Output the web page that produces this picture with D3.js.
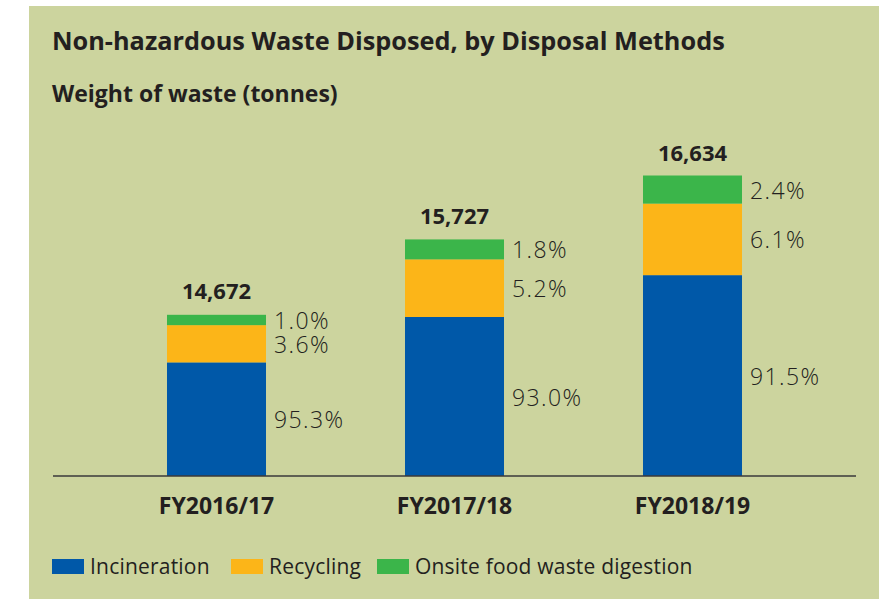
<!DOCTYPE html>
<html>
<head>
<meta charset="utf-8">
<script src="https://cdn.jsdelivr.net/npm/d3@7"></script>
<style>
  html, body { margin: 0; padding: 0; background: #ffffff; }
  svg { display: block; }
  text { font-family: "Open Sans", "Noto Sans", sans-serif; fill: #231f20; }
</style>
</head>
<body>
<svg id="chart" width="890" height="599"></svg>
<script>
// Non-hazardous waste disposed, by disposal method (tonnes and share of total)
const categories = ["FY2016/17", "FY2017/18", "FY2018/19"];
const totals = [14672, 15727, 16634];
const incinerationPct = [95.3, 93.0, 91.5];
const recyclingPct = [3.6, 5.2, 6.1];
const digestionPct = [1.0, 1.8, 2.4];

const seriesNames = ["Incineration", "Recycling", "Onsite food waste digestion"];
const seriesColors = ["#0058a8", "#fcb518", "#3bb54a"];

const W = 890, H = 599;
const svg = d3.select("#chart");

// panel background
svg.append("rect")
  .attr("x", 29).attr("y", 6)
  .attr("width", 850).attr("height", H - 6)
  .attr("fill", "#ccd49e");

// titles
svg.append("text")
  .attr("x", 52).attr("y", 50)
  .attr("font-size", 25.3).attr("font-weight", 700)
  .text("Non-hazardous Waste Disposed, by Disposal Methods");

svg.append("text")
  .attr("x", 52).attr("y", 102)
  .attr("font-size", 23).attr("font-weight", 700)
  .text("Weight of waste (tonnes)");

// build stacked rows in tonnes from the percentage shares
const pcts = [incinerationPct, recyclingPct, digestionPct];
const rows = categories.map((c, i) => {
  const row = { category: c, total: totals[i] };
  seriesNames.forEach((s, k) => { row[s] = totals[i] * pcts[k][i] / 100; });
  return row;
});
const stacked = d3.stack().keys(seriesNames)(rows);

const baseY = 476;
const x = d3.scaleBand()
  .domain(categories)
  .range([97.5, 811.5])
  .paddingInner(0.584)
  .paddingOuter(0.292);

// value axis starts well above zero, so the bars are cut at the baseline
const y = d3.scaleLinear()
  .domain([12370, 16634])
  .range([baseY, 175.5])
  .clamp(true);

const layers = svg.append("g").selectAll("g")
  .data(stacked)
  .join("g")
  .attr("fill", (d, k) => seriesColors[k]);

layers.selectAll("rect")
  .data(d => d)
  .join("rect")
  .attr("x", d => x(d.data.category))
  .attr("width", x.bandwidth())
  .attr("y", d => y(d[1]))
  .attr("height", d => y(d[0]) - y(d[1]));

// share labels at the middle of each segment
stacked.forEach((layer, k) => {
  svg.append("g").selectAll("text")
    .data(layer)
    .join("text")
    .attr("x", d => x(d.data.category) + x.bandwidth() + 8)
    .attr("y", d => (y(d[0]) + y(d[1])) / 2 + 9)
    .attr("font-size", 23)
    .attr("font-weight", 300)
    .attr("letter-spacing", 1.4)
    .attr("fill", "#2e2e2e")
    .text((d, i) => pcts[k][i].toFixed(1) + "%");
});

// totals above each bar
svg.append("g").selectAll("text")
  .data(rows)
  .join("text")
  .attr("x", d => x(d.category) + x.bandwidth() / 2)
  .attr("y", d => y(d.total) - 15)
  .attr("text-anchor", "middle")
  .attr("font-size", 22)
  .attr("font-weight", 700)
  .text(d => d3.format(",")(d.total));

// baseline axis with category labels
const xAxis = d3.axisBottom(x).tickSize(0).tickPadding(22);
const axisG = svg.append("g")
  .attr("transform", `translate(0,${baseY})`)
  .call(xAxis);
axisG.select(".domain").remove();
axisG.append("line")
  .attr("x1", 53).attr("x2", 856)
  .attr("stroke", "#3a3a3a").attr("stroke-width", 1.5);
axisG.selectAll(".tick text")
  .attr("font-size", 23)
  .attr("font-weight", 700)
  .attr("font-family", "'Open Sans', 'Noto Sans', sans-serif")
  .attr("fill", "#231f20");

// legend
const legend = svg.append("g").attr("transform", "translate(52,559)");
const legendX = [0, 179, 325];
seriesNames.forEach((s, k) => {
  const g = legend.append("g").attr("transform", `translate(${legendX[k]},0)`);
  g.append("rect").attr("width", 32).attr("height", 15).attr("fill", seriesColors[k]);
  g.append("text")
    .attr("x", 38).attr("y", 15)
    .attr("font-size", 21)
    .attr("letter-spacing", 0.2)
    .attr("fill", "#231f20")
    .text(s);
});
</script>
</body>
</html>
